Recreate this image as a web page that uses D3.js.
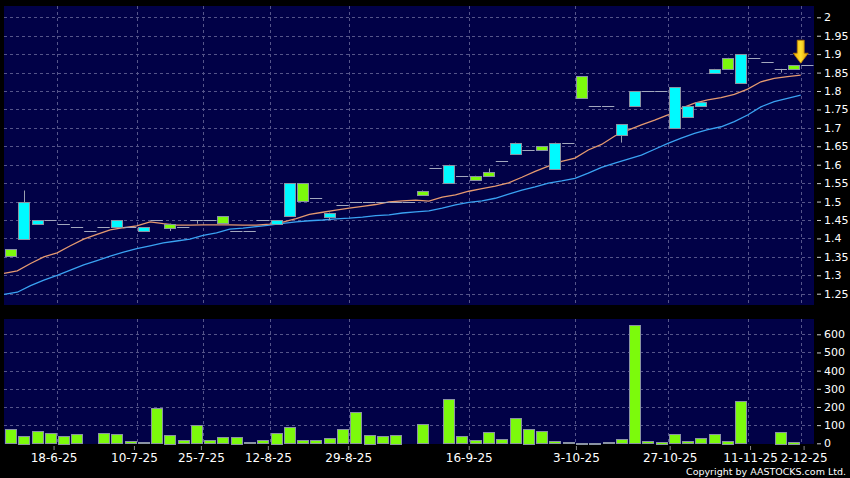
<!DOCTYPE html>
<html><head><meta charset="utf-8">
<script src="https://cdn.jsdelivr.net/npm/d3@7/dist/d3.min.js"></script>
<style>
html,body{margin:0;padding:0;background:#000;}
svg{display:block;}
</style></head><body>
<svg id="chart" width="850" height="478"></svg>
<script>
// ---- data (one entry per slot on the x axis) ----
const openP  = [1.37,1.40,1.44,1.45,1.44,1.43,1.42,1.43,1.43,1.43,1.42,1.45,1.44,1.43,1.45,1.45,1.46,1.42,1.42,1.45,1.44,1.46,1.55,1.51,1.46,1.49,1.50,1.50,1.50,1.50,1.50,1.53,1.59,1.55,1.57,1.57,1.58,1.61,1.63,1.64,1.65,1.59,1.66,1.84,1.76,1.76,1.68,1.76,1.80,1.80,1.70,1.73,1.76,1.85,1.89,1.82,1.89,1.88,1.86,1.87,1.87];
const closeP = [1.35,1.50,1.45,1.45,1.44,1.43,1.42,1.43,1.45,1.43,1.43,1.45,1.43,1.43,1.45,1.45,1.44,1.42,1.42,1.45,1.45,1.55,1.50,1.51,1.47,1.49,1.50,1.50,1.50,1.50,1.50,1.52,1.59,1.60,1.57,1.56,1.57,1.61,1.66,1.64,1.64,1.66,1.66,1.78,1.76,1.76,1.71,1.80,1.80,1.80,1.81,1.76,1.77,1.86,1.86,1.90,1.89,1.88,1.86,1.86,1.87];
const highP  = [1.37,1.53,1.45,1.45,1.44,1.43,1.42,1.43,1.45,1.43,1.43,1.45,1.44,1.43,1.45,1.45,1.46,1.42,1.42,1.45,1.45,1.55,1.55,1.51,1.47,1.49,1.50,1.50,1.50,1.50,1.50,1.53,1.59,1.60,1.57,1.57,1.59,1.61,1.66,1.64,1.65,1.66,1.66,1.84,1.76,1.76,1.71,1.80,1.80,1.80,1.81,1.76,1.77,1.86,1.89,1.90,1.89,1.88,1.86,1.87,1.87];
const lowP   = [1.35,1.40,1.44,1.45,1.44,1.43,1.42,1.43,1.43,1.43,1.42,1.45,1.42,1.43,1.44,1.45,1.44,1.42,1.42,1.45,1.44,1.46,1.50,1.51,1.45,1.49,1.50,1.50,1.50,1.50,1.50,1.52,1.59,1.55,1.57,1.56,1.57,1.61,1.63,1.64,1.64,1.59,1.66,1.78,1.76,1.76,1.66,1.76,1.80,1.80,1.70,1.73,1.76,1.85,1.86,1.82,1.89,1.88,1.85,1.86,1.87];
const volume = [79,42,66,57,42,49,0,55,51,11,7,193,48,18,99,18,35,37,7,18,59,90,18,18,29,79,172,48,38,48,0,104,0,242,40,18,62,22,137,80,66,13,5,3,2,7,22,650,11,9,49,11,27,49,14,233,0,0,64,9,0];
const maShort = [1.305,1.312,1.332,1.350,1.361,1.380,1.398,1.411,1.423,1.429,1.434,1.445,1.440,1.436,1.436,1.437,1.437,1.437,1.436,1.436,1.439,1.444,1.454,1.465,1.471,1.477,1.482,1.487,1.492,1.499,1.502,1.504,1.501,1.512,1.518,1.528,1.535,1.542,1.551,1.566,1.582,1.596,1.609,1.618,1.640,1.655,1.678,1.694,1.708,1.721,1.735,1.753,1.767,1.776,1.782,1.791,1.805,1.825,1.834,1.839,1.843];
const maLong  = [1.248,1.254,1.272,1.287,1.300,1.314,1.328,1.340,1.352,1.363,1.372,1.380,1.388,1.393,1.398,1.408,1.415,1.425,1.428,1.432,1.436,1.441,1.445,1.448,1.450,1.453,1.455,1.458,1.462,1.464,1.469,1.472,1.475,1.482,1.491,1.498,1.502,1.509,1.520,1.531,1.540,1.550,1.556,1.563,1.577,1.593,1.604,1.615,1.626,1.642,1.658,1.672,1.685,1.695,1.703,1.717,1.735,1.757,1.771,1.780,1.789];
const tickSlots  = [4,10,15,20,26,35,43,50,56,60];
const tickLabels = ["18-6-25","10-7-25","25-7-25","12-8-25","29-8-25","16-9-25","3-10-25","27-10-25","11-11-25","2-12-25"];
const priceTicks = [1.25,1.3,1.35,1.4,1.45,1.5,1.55,1.6,1.65,1.7,1.75,1.8,1.85,1.9,1.95,2];
const volTicks   = [0,100,200,300,400,500,600];

// ---- layout ----
const W = 850, H = 478;
const pricePanel = {top: 6, bottom: 305};
const volPanel = {top: 319, bottom: 444};
const n = openP.length;

const svg = d3.select("#chart");
svg.append("rect").attr("width", W).attr("height", H).attr("fill", "#000");

const x = d3.scaleBand().domain(d3.range(n)).range([4, 814]);
const xTick = d3.scaleLinear().domain([0, n]).range([0, 817]);
const yP = d3.scaleLinear().domain([1.25, 2]).range([293.7, 17.3]);
const yV = d3.scaleLinear().domain([0, 600]).range([443.3, 334.3]);
const bw = x.bandwidth();
const [x0, x1] = x.range();

const navy = "#010147";
const gridCol = "#55558a";
const outline = "#8a93a3";
const cyan = "#00faff";
const green = "#7cfa0c";

// panels
svg.append("rect").attr("x", x0).attr("y", pricePanel.top).attr("width", x1 - x0)
  .attr("height", pricePanel.bottom - pricePanel.top).attr("fill", navy);
svg.append("rect").attr("x", x0).attr("y", volPanel.top).attr("width", x1 - x0)
  .attr("height", volPanel.bottom - volPanel.top).attr("fill", navy);

// grids
const grid = svg.append("g").attr("stroke", gridCol).attr("stroke-width", 1)
  .attr("stroke-dasharray", "3,3").attr("shape-rendering", "crispEdges");
grid.selectAll(".hp").data(priceTicks).join("line")
  .attr("x1", x0).attr("x2", x1).attr("y1", d => Math.round(yP(d)) + 0.5).attr("y2", d => Math.round(yP(d)) + 0.5);
grid.selectAll(".hv").data(volTicks.slice(1)).join("line").attr("class", "hv")
  .attr("x1", x0).attr("x2", x1).attr("y1", d => Math.round(yV(d)) + 0.5).attr("y2", d => Math.round(yV(d)) + 0.5);
grid.selectAll(".vp").data(tickSlots).join("line").attr("class", "vp")
  .attr("x1", d => Math.round(x(d)) + 0.5).attr("x2", d => Math.round(x(d)) + 0.5)
  .attr("y1", pricePanel.top).attr("y2", pricePanel.bottom);
grid.selectAll(".vv").data(tickSlots).join("line").attr("class", "vv")
  .attr("x1", d => Math.round(x(d)) + 0.5).attr("x2", d => Math.round(x(d)) + 0.5)
  .attr("y1", volPanel.top).attr("y2", volPanel.bottom);

// moving averages
const maLine = d3.line().x((d, i) => x(i)).y(d => yP(d));
svg.append("path").attr("d", maLine(maLong)).attr("fill", "none")
  .attr("stroke", "#3aa2f2").attr("stroke-width", 1.3);
svg.append("path").attr("d", maLine(maShort)).attr("fill", "none")
  .attr("stroke", "#e59a70").attr("stroke-width", 1.3);

// candles
const idx = d3.range(n);
const cg = svg.append("g");
cg.selectAll(".wick").data(idx.filter(i => highP[i] !== lowP[i])).join("line")
  .attr("x1", i => Math.round(x(i) + bw / 2) + 0.5).attr("x2", i => Math.round(x(i) + bw / 2) + 0.5)
  .attr("y1", i => yP(highP[i])).attr("y2", i => yP(lowP[i]))
  .attr("stroke", "#9aa0b0").attr("stroke-width", 1);
cg.selectAll(".body").data(idx.filter(i => openP[i] !== closeP[i])).join("rect")
  .attr("x", i => Math.round(x(i) + 1) + 0.5)
  .attr("y", i => Math.round(yP(Math.max(openP[i], closeP[i]))) + 0.5)
  .attr("width", Math.round(bw - 2))
  .attr("height", i => Math.max(1, Math.round(Math.abs(yP(openP[i]) - yP(closeP[i])))))
  .attr("fill", i => closeP[i] > openP[i] ? cyan : green)
  .attr("stroke", outline).attr("stroke-width", 1);
cg.selectAll(".flat").data(idx.filter(i => openP[i] === closeP[i])).join("line")
  .attr("x1", i => x(i) + 0.5).attr("x2", i => x(i) + bw - 0.5)
  .attr("y1", i => Math.round(yP(closeP[i])) + 0.5).attr("y2", i => Math.round(yP(closeP[i])) + 0.5)
  .attr("stroke", "#a3a8bd").attr("stroke-width", 1);

// volume bars
svg.append("g").selectAll("rect").data(idx.filter(i => volume[i] > 0)).join("rect")
  .attr("x", i => Math.round(x(i) + 1) + 0.5)
  .attr("y", i => Math.round(yV(volume[i])) + 0.5)
  .attr("width", Math.round(bw - 2))
  .attr("height", i => Math.max(1, Math.round(yV(0) - yV(volume[i]))))
  .attr("fill", green).attr("stroke", outline).attr("stroke-width", 1);

// last-price arrow
const last = n - 1;
const ax = x(last), tipY = yP(closeP[last]) - 2;
const arrowGrad = svg.append("defs").append("linearGradient").attr("id", "ag")
  .attr("x1", 0).attr("x2", 1).attr("y1", 0).attr("y2", 0);
arrowGrad.append("stop").attr("offset", "0%").attr("stop-color", "#f0a800");
arrowGrad.append("stop").attr("offset", "50%").attr("stop-color", "#ffe030");
arrowGrad.append("stop").attr("offset", "100%").attr("stop-color", "#e09a00");
svg.append("path")
  .attr("d", `M${ax - 3.5},${tipY - 23} L${ax + 3.5},${tipY - 23} L${ax + 3.5},${tipY - 10} L${ax + 7.5},${tipY - 10} L${ax},${tipY} L${ax - 7.5},${tipY - 10} L${ax - 3.5},${tipY - 10} Z`)
  .attr("fill", "url(#ag)").attr("stroke", "#b87a00").attr("stroke-width", 0.8);

// axes
const fmtP = d => String(+d.toFixed(2));
const styleAxis = (g, size) => {
  g.select(".domain").remove();
  g.selectAll(".tick line").attr("stroke", "#cfcfcf");
  g.selectAll(".tick text").attr("fill", "#fff").attr("font-family", "'DejaVu Sans', sans-serif").attr("font-size", size);
};
svg.append("g").attr("transform", "translate(817,0)")
  .call(d3.axisRight(yP).tickValues(priceTicks).tickSize(4).tickPadding(3).tickFormat(fmtP))
  .call(g => styleAxis(g, 11));
svg.append("g").attr("transform", "translate(817,0)")
  .call(d3.axisRight(yV).tickValues(volTicks).tickSize(4).tickPadding(3).tickFormat(d3.format("d")))
  .call(g => styleAxis(g, 11));
svg.append("g").attr("transform", "translate(0,446)")
  .call(d3.axisBottom(xTick).tickValues(tickSlots).tickSize(4).tickPadding(3)
    .tickFormat((d, i) => tickLabels[i]))
  .call(g => styleAxis(g, 12))
  .call(g => g.selectAll(".tick line").attr("stroke", "#888"));

// copyright
svg.append("text").attr("x", 846).attr("y", 474.5).attr("text-anchor", "end")
  .attr("font-family", "'DejaVu Sans', sans-serif")
  .attr("font-size", 9.5).attr("fill", "#fff")
  .text("Copyright by AASTOCKS.com Ltd.");
</script>
</body></html>
